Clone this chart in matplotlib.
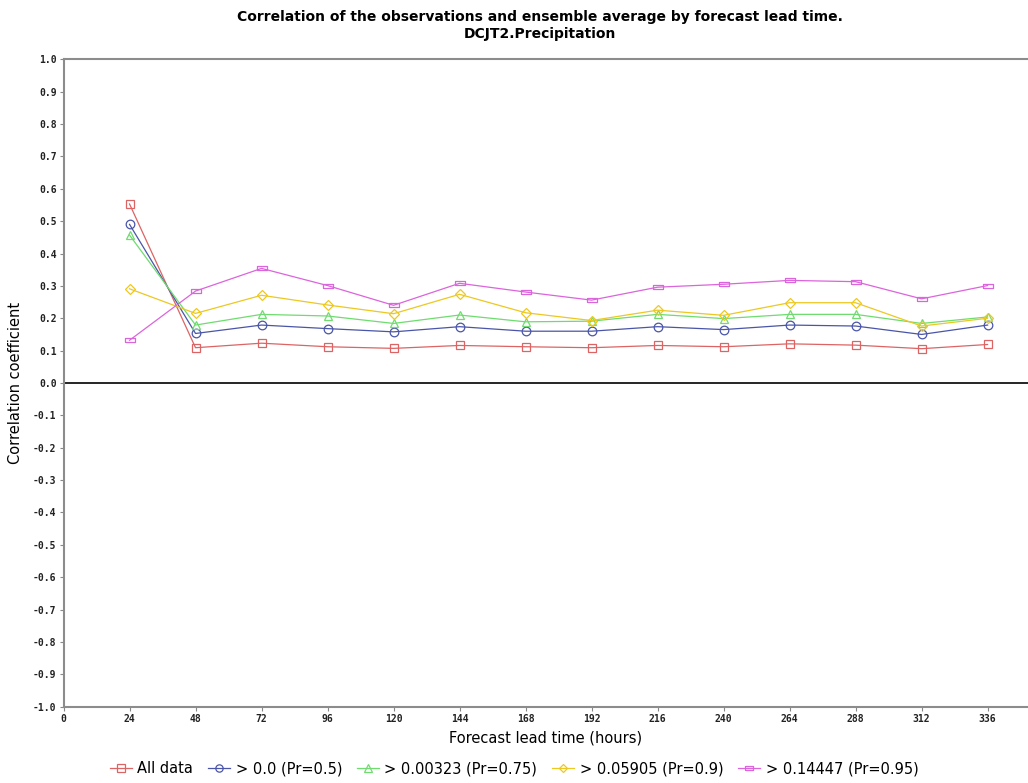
import numpy as np
import matplotlib
matplotlib.use("Agg")
import matplotlib.pyplot as plt

# Lead times (hours)
lead_times = [24, 48, 72, 96, 120, 144, 168, 192, 216, 240, 264, 288, 312, 336]

# Correlation coefficients per threshold
all_data = [0.553, 0.109, 0.123, 0.112, 0.107, 0.116, 0.112, 0.109, 0.116, 0.112, 0.121, 0.117, 0.106, 0.119]
gt_0 = [0.490, 0.153, 0.179, 0.168, 0.158, 0.174, 0.160, 0.160, 0.174, 0.165, 0.179, 0.176, 0.150, 0.179]
gt_00323 = [0.457, 0.179, 0.212, 0.207, 0.184, 0.210, 0.189, 0.191, 0.212, 0.199, 0.212, 0.212, 0.184, 0.204]
gt_05905 = [0.291, 0.215, 0.271, 0.241, 0.214, 0.274, 0.217, 0.193, 0.225, 0.209, 0.248, 0.248, 0.176, 0.200]
gt_14447 = [0.132, 0.284, 0.354, 0.301, 0.240, 0.308, 0.281, 0.256, 0.296, 0.305, 0.317, 0.313, 0.260, 0.301]

series_labels = ["All data", "> 0.0 (Pr=0.5)", "> 0.00323 (Pr=0.75)",
                 "> 0.05905 (Pr=0.9)", "> 0.14447 (Pr=0.95)"]
x_ticks = list(range(0, 337, 24))
y_ticks = np.round(np.arange(-1.0, 1.01, 0.1), 1)

# flat rectangle marker for the last series
rect = [(-1, -0.55), (1, -0.55), (1, 0.55), (-1, 0.55), (-1, -0.55)]

styles = [
    dict(color="#dc6464", marker="s", ms=6.2),
    dict(color="#4a55a8", marker="o", ms=6.2),
    dict(color="#6edc6e", marker="^", ms=6.2),
    dict(color="#ecc820", marker="D", ms=5),
    dict(color="#dc64dc", marker=rect, ms=6.5),
]

fig = plt.figure(figsize=(10.28, 7.83), dpi=100)
ax = fig.add_axes([0.0618, 0.0974, 0.9382, 0.8269])

for vals, label, st in zip([all_data, gt_0, gt_00323, gt_05905, gt_14447], series_labels, styles):
    ax.plot(lead_times, vals, color=st["color"], lw=0.9, marker=st["marker"],
            markersize=st["ms"], markerfacecolor="none", markeredgewidth=0.9,
            label=label)

ax.axhline(0, color="black", lw=1.2, zorder=1)

ax.set_xlim(0, 350.7)
ax.set_ylim(-1.0, 1.0)
ax.set_xticks(x_ticks)
ax.set_yticks(y_ticks)
ax.set_xticklabels([str(t) for t in x_ticks])
ax.set_yticklabels(["%.1f" % v if abs(v) > 1e-9 else "0.0" for v in y_ticks])

for lab in ax.get_xticklabels() + ax.get_yticklabels():
    lab.set_fontfamily("DejaVu Sans Mono")
    lab.set_fontweight("bold")
    lab.set_fontsize(7)
    lab.set_color("#222222")

ax.tick_params(direction="out", length=3, width=0.8, color="#888888", pad=2)

for side in ["left", "bottom", "top"]:
    ax.spines[side].set_color("#8c8c8c")
    ax.spines[side].set_linewidth(1.5)
ax.spines["right"].set_visible(False)

ax.set_xlabel("Forecast lead time (hours)", fontsize=10.5, labelpad=5)
ax.set_ylabel("Correlation coefficient", fontsize=10.5, labelpad=7)

fig.text(0.525, 0.978, "Correlation of the observations and ensemble average by forecast lead time.",
         ha="center", va="center", fontsize=10, fontweight="bold")
fig.text(0.525, 0.957, "DCJT2.Precipitation",
         ha="center", va="center", fontsize=10, fontweight="bold")

fig.legend(loc="center", bbox_to_anchor=(0.5, 0.018), ncol=5, frameon=False,
           fontsize=10.5, handlelength=1.5, handletextpad=0.4, columnspacing=1.0,
           markerscale=0.85)

fig.savefig("out.png", dpi=100)
